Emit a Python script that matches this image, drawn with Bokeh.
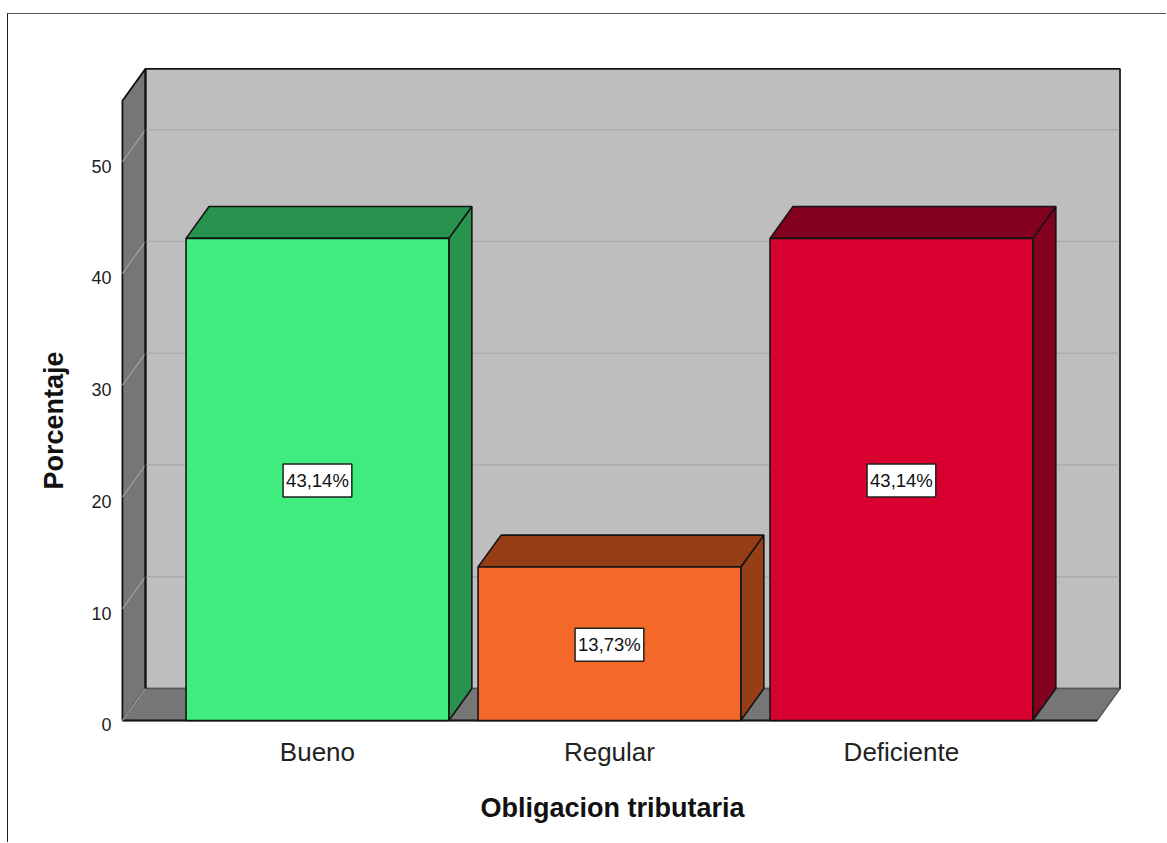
from bokeh.embed import file_html
from bokeh.resources import INLINE
from bokeh.plotting import figure
from bokeh.models import FixedTicker, Label, LinearAxis, Range1d, Title

# Chart content
categories = ["Bueno", "Regular", "Deficiente"]
percentages = [43.14, 13.73, 43.14]
value_labels = ["43,14%", "13,73%", "43,14%"]
front_colors = ["#41EC7E", "#F4682A", "#D7002E"]
side_colors = ["#27934F", "#963F17", "#83001F"]
y_ticks = [0, 10, 20, 30, 40, 50]
x_title = "Obligacion tributaria"
y_title = "Porcentaje"

# Projection of the box: depth offsets in axis units
BAR_WIDTH = 0.9
DEPTH_X = 0.0788
DEPTH_Y = 2.857
WALL_TOP = 55.45
FLOOR_LEFT = -0.668
FLOOR_RIGHT = 2.67

FONT = "Liberation Sans"
EDGE = "#141414"
Y_START, Y_END = -0.625, 58.7

# The thin rule along the top and left comes from the page element's own border
p = figure(
    width=1159, height=829, output_backend="svg", toolbar_location=None,
    x_range=Range1d(-0.678, 2.764), y_range=Range1d(Y_START, Y_END),
    x_axis_location=None, y_axis_location=None,
    min_border_left=111, min_border_right=43, min_border_top=50, min_border_bottom=115,
    background_fill_color="white", border_fill_color="white", outline_line_color=None,
    margin=(13, 0, 0, 7),
    styles={"border-top": "1px solid #555555", "border-left": "1px solid #222222"},
)
p.grid.visible = False

# Back wall, side wall and floor
back_l, back_r = FLOOR_LEFT + DEPTH_X, FLOOR_RIGHT + DEPTH_X
back_top = WALL_TOP + DEPTH_Y
p.patch([back_l, back_r, back_r, back_l], [DEPTH_Y, DEPTH_Y, back_top, back_top],
        fill_color="#BEBEBE", line_color=EDGE, line_width=1.8)
p.patch([FLOOR_LEFT, back_l, back_l, FLOOR_LEFT], [0, DEPTH_Y, back_top, WALL_TOP],
        fill_color="#767676", line_color=EDGE, line_width=1.8)
p.patch([FLOOR_LEFT, back_l, back_r, FLOOR_RIGHT], [0, DEPTH_Y, DEPTH_Y, 0],
        fill_color="#767676", line_color="#555555", line_width=1.4)
p.line([FLOOR_LEFT, FLOOR_RIGHT], [0, 0], line_color=EDGE, line_width=2)

# Grid lines run across the back wall and down the side wall
p.segment(x0=[back_l] * 5, x1=[back_r] * 5,
          y0=[t + DEPTH_Y for t in y_ticks[1:]], y1=[t + DEPTH_Y for t in y_ticks[1:]],
          line_color="#ABABAB", line_width=1.5)
p.segment(x0=[FLOOR_LEFT] * 6, x1=[back_l] * 6,
          y0=y_ticks, y1=[t + DEPTH_Y for t in y_ticks],
          line_color="#A2A2A2", line_width=1.2)
p.line([back_l, back_l], [DEPTH_Y, back_top], line_color=EDGE, line_width=1.8)
p.line([back_r, back_r], [DEPTH_Y, back_top], line_color="#333333", line_width=1.8)

# Bars: side, top and front faces
half = BAR_WIDTH / 2
xs_side, ys_side, xs_top, ys_top = [], [], [], []
for i, v in enumerate(percentages):
    l, r = i - half, i + half
    xs_side.append([r, r + DEPTH_X, r + DEPTH_X, r])
    ys_side.append([0, DEPTH_Y, v + DEPTH_Y, v])
    xs_top.append([l, l + DEPTH_X, r + DEPTH_X, r])
    ys_top.append([v, v + DEPTH_Y, v + DEPTH_Y, v])
p.patches(xs_side, ys_side, fill_color=side_colors, line_color=EDGE, line_width=1.6)
p.patches(xs_top, ys_top, fill_color=side_colors, line_color=EDGE, line_width=1.6)
p.vbar(x=list(range(len(categories))), top=percentages, width=BAR_WIDTH, bottom=0,
       fill_color=front_colors, line_color=EDGE, line_width=1.6)

# Value labels in the middle of each bar
for i, (v, text) in enumerate(zip(percentages, value_labels)):
    p.add_layout(Label(x=i, y=v / 2, text=text, text_font=FONT, text_font_size="18.5px",
                       text_color="#111111", text_align="center", text_baseline="middle",
                       y_offset=-1, padding=(3, 6), background_fill_color="white",
                       border_line_color="#222222", border_line_width=1.5))

# Axes. The value axis reads from a slightly shifted range so its numbers
# sit just under the lines they belong to.
p.extra_y_ranges = {"tick_text": Range1d(Y_START + 0.4, Y_END + 0.4)}
y_axis = LinearAxis(y_range_name="tick_text", ticker=FixedTicker(ticks=y_ticks),
                    axis_line_color=None,
                    major_tick_line_color=None, minor_tick_line_color=None,
                    major_label_text_font=FONT, major_label_text_font_size="18px",
                    major_label_text_color="#222222", major_label_standoff=2)
p.add_layout(y_axis, "left")

x_axis = LinearAxis(ticker=FixedTicker(ticks=list(range(len(categories)))),
                    major_label_overrides={i: c for i, c in enumerate(categories)},
                    axis_line_color=None,
                    major_tick_line_color=None, minor_tick_line_color=None,
                    major_label_text_font=FONT, major_label_text_font_size="26px",
                    major_label_text_color="#222222", major_label_standoff=3)
p.add_layout(x_axis, "below")

# Axis titles sit off-centre relative to the plot frame
p.add_layout(Title(text=y_title, align="left", offset=238, standoff=40,
                   text_font=FONT, text_font_style="bold", text_font_size="27px",
                   text_color="#111111"), "left")
p.add_layout(Title(text=x_title, align="left", offset=361, standoff=42,
                   text_font=FONT, text_font_style="bold", text_font_size="27px",
                   text_color="#111111"), "below")

open("out.html", "w").write(file_html(p, INLINE))
